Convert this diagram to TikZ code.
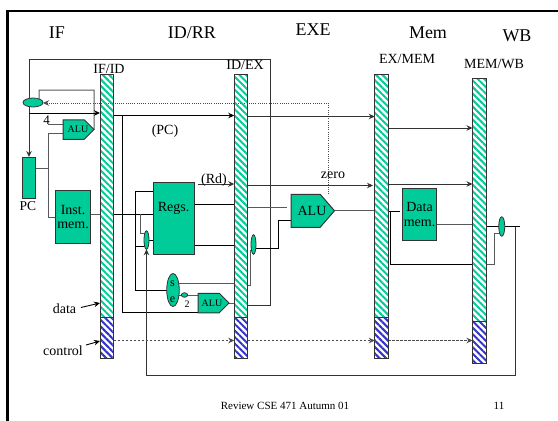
\documentclass[tikz,border=0pt]{standalone}
\usepackage{fontspec}
\setmainfont{Liberation Serif}
\usepackage{xcolor}
\usepackage{tikz}
\usetikzlibrary{shapes.geometric, arrows.meta, positioning, backgrounds, calc, shapes, patterns.meta}
\definecolor{unitgreen}{HTML}{00CC99}
\definecolor{ctrlblue}{HTML}{3333CC}
\newcommand{\fsize}[1]{\fontsize{#1}{#1}\selectfont}
\tikzstyle{datareg} = [rectangle, anchor=north, minimum width=13.5, inner sep=0, outer sep=0, draw=black!80, line width=1, pattern={Lines[angle=-45, distance=4.6, line width=2]}, pattern color=unitgreen]
\tikzstyle{ctrlreg} = [rectangle, anchor=north, minimum width=13.5, inner sep=0, outer sep=0, draw=black!80, line width=1, pattern={Lines[angle=-45, distance=4.6, line width=2]}, pattern color=ctrlblue]
\tikzstyle{unit} = [rectangle, inner sep=0, outer sep=0, draw=black!80, line width=1, fill=unitgreen, align=center, font=\fsize{14}]
\tikzstyle{mux} = [ellipse, inner sep=0, outer sep=0, draw=black!80, line width=0.8, fill=unitgreen]
\tikzstyle{alusmall} = [signal, signal to=east, signal pointer angle=90, inner sep=0, outer sep=0, anchor=west, draw=black!80, line width=1, fill=unitgreen, minimum height=19.5, minimum width=31]
\tikzstyle{stage} = [inner sep=0, font=\fsize{18}]
\tikzstyle{label} = [inner sep=0, font=\fsize{14}, align=center]
\tikzstyle{small} = [inner sep=0, font=\fsize{10}]
\tikzstyle{wire} = [draw=black!65, line width=1]
\tikzstyle{bwire} = [draw=black, line width=0.8]
\tikzstyle{arrow} = [draw=black!80, line width=0.9, -{Stealth[length=6, width=5.5]}]
\tikzstyle{ctrl} = [draw=black!70, line width=0.7, dash pattern=on 2.5 off 1.5, -{Stealth[length=6, width=5.5]}]
\begin{document}
\begin{tikzpicture}[x=1pt, y=-1pt]
    \useasboundingbox (0,0) rectangle (558,421);
    % Marco
    \draw [line width=2.5] (7.5,421) -- (7.5,11) -- (558,11);

    % Etapas
    \node (ifstage) [stage] at (57,33) {IF};
    \node (idstage) [stage] at (192,33) {ID/RR};
    \node (exstage) [stage] at (313,30) {EXE};
    \node (memstage) [stage] at (428,33) {Mem};
    \node (wbstage) [stage] at (517,36) {WB};

    % Registros de etapa
    \node (ifid) [datareg, minimum height=243] at (106.75,74) {};
    \node (idex) [datareg, minimum height=243] at (241,74) {};
    \node (exmem) [datareg, minimum height=243] at (381.5,74) {};
    \node (memwb) [datareg, minimum height=243] at (479.25,78) {};
    \node (ifidc) [ctrlreg, minimum height=41.5] at (106.75,317) {};
    \node (idexc) [ctrlreg, minimum height=41.5] at (241,317) {};
    \node (exmemc) [ctrlreg, minimum height=41.5] at (381.5,317) {};
    \node (memwbc) [ctrlreg, minimum height=41.5] at (479.25,321.5) {};
    \node (ifidl) [label] at (109,69) {IF/ID};
    \node (idexl) [label] at (245,65) {ID/EX};
    \node (exmeml) [label] at (407,59) {EX/MEM};
    \node (memwbl) [label] at (494,64) {MEM/WB};

    % Unidades
    \node (pc) [unit, minimum width=13, minimum height=41] at (29,177.5) {};
    \node (pcl) [label, font=\fsize{13.5}] at (28,206) {PC};
    \node (imem) [unit, minimum width=35, minimum height=53] at (73,217) {Inst.\\[0.5pt]mem.};
    \node (regs) [unit, minimum width=41.5, minimum height=71.5] at (173.75,218.25) {};
    \node (regsl) [label] at (173.5,208) {Regs.};
    \node (dmem) [unit, minimum width=34.5, minimum height=51.5] at (419.5,214.5) {Data\\[0.5pt]mem.};
    \node (sext) [mux, minimum width=12.5, minimum height=33] at (173,290) {};
    \node (sextS) [small, font=\fsize{12}] at (172.5,284) {s};
    \node (sextE) [small, font=\fsize{12}] at (172.5,300) {e};
    \node (shift) [mux, minimum width=6.5, minimum height=4.5] at (184.5,295) {};
    \node (shiftl) [small] at (187,304) {2};

    % Multiplexores
    \node (pcmux) [mux, minimum width=20, minimum height=9] at (33,102.5) {};
    \node (regmux) [mux, minimum width=5, minimum height=18.5] at (146.5,240) {};
    \node (alumux) [mux, minimum width=5, minimum height=19.5] at (253.5,244.5) {};
    \node (wbmux) [mux, minimum width=6, minimum height=19.5] at (501.75,226.5) {};

    % ALUs
    \node (pcalu) [alusmall] at (63,129.5) {};
    \node (pcalul) [small] at (78,129.5) {ALU};
    \node (bralu) [alusmall] at (198,303) {};
    \node (bralul) [small] at (212,303) {ALU};
    \node (alu) [alusmall, minimum width=43.5, minimum height=33, signal pointer angle=98] at (291,210.75) {};
    \node (alul) [label] at (312,211) {ALU};

    % Textos
    \node (pclab) [label] at (165,131) {(PC)};
    \node (rdlab) [label] at (214,180) {(Rd)};
    \node (zerolab) [label] at (333,175) {zero};
    \node (four) [label, font=\fsize{13}] at (46.5,120) {4};
    \node (datalab) [label] at (64.5,309) {data};
    \node (ctrllab) [label] at (63,350.5) {control};
    \node (footer) [small, font=\fsize{11}] at (285,406) {Review CSE 471 Autumn 01};
    \node (pagenum) [small, font=\fsize{11}] at (499,406) {11};

    % Puntos de paso
    \coordinate (brbot) at (270,305);
    \coordinate (brtop) at (270,59);
    \coordinate (pctop) at (29,59);
    \coordinate (fbleft) at (39,90);
    \coordinate (fbright) at (94,90);
    \coordinate (pcbus) at (48,168);
    \coordinate (rdbus) at (135.5,246);
    \coordinate (zerotop) at (328,103);
    \coordinate (wbbot) at (515,375.5);
    \coordinate (wbend) at (520,226.5);
    \coordinate (memload) at (390.5,264.5);
    \coordinate (muxsel) at (494.5,233);
    \coordinate (datastart) at (81,307.5);
    \coordinate (ctrlstart) at (86,345);

    \begin{scope}[on background layer]
        % Busqueda
        \draw [arrow] (idex.east |- brbot) -- (brbot) -- (brtop) -- (pctop) -- (pc.north);
        \draw [wire] (pcalu.east) -- (fbright) -- (fbleft) -- (fbleft |- pcmux.center);
        \draw [arrow, draw=black] (pc.north |- 0,113) -- (ifid.west |- 0,113);
        \draw [wire] (pc.east |- pcbus) -- (pcbus);
        \draw [wire] (pcalu.west |- 0,133) -- (pcbus |- 0,133) -- (pcbus |- imem.west) -- (imem.west);
        \draw [wire] (pcalu.west |- 0,124) -- (48,124);
        \draw [wire] (imem.east |- 0,214) -- (ifid.west |- 0,214);
        \draw [ctrl, dash pattern=on 1 off 1.2] (alu.north -| zerotop) -- (zerotop) -- (pcmux.east |- zerotop);

        % Decodificacion
        \draw [arrow, draw=black] (ifid.east |- 0,115.5) -- (idex.west |- 0,115.5);
        \draw [bwire] (122,115.5) -- (122,312.5) -- (bralu.west |- 0,312.5);
        \draw [bwire] (ifid.east |- 0,214) -- (regs.west |- 0,214);
        \draw [bwire] (regs.west |- 0,191.5) -- (135.5,191.5) -- (135.5,290) -- (sext.west);
        \draw [bwire] (rdbus) -- (rdbus -| regmux.center);
        \draw [wire] (140.5,214) -- (140.5,233) -- (regmux.center |- 0,233);
        \draw [bwire] (regmux.east) -- (regs.west |- regmux.east);
        \draw [arrow] (wbend -| wbbot) -- (wbbot) -- (wbbot -| regmux.south) -- (regmux.south);
        \draw [bwire] (regs.east |- 0,204) -- (idex.west |- 0,204);
        \draw [bwire] (regs.east |- 0,245.5) -- (idex.west |- 0,245.5);
        \draw [arrow] (198,184) -- (idex.west |- 0,184);
        \draw [wire] (sext.east |- 0,283) -- (idex.west |- 0,283);
        \draw [wire] (shift.east) -- (bralu.west |- shift.east);
        \draw [wire] (sext.east |- shift.west) -- (shift.west);
        \draw [wire] (bralu.east) -- (idex.west |- bralu.east);

        % Ejecucion
        \draw [arrow] (idex.east |- 0,116.5) -- (exmem.west |- 0,116.5);
        \draw [arrow] (idex.east |- 0,185.5) -- (373,185.5);
        \draw [wire] (idex.east |- 0,207) -- (287,207);
        \draw [wire] (idex.east |- 0,285) -- (250,285) -- (250,250);
        \draw [bwire] (alumux.east |- 0,248) -- (278,248) -- (278,220) -- (alu.west |- 0,220);
        \draw [wire] (alu.east) -- (exmem.west |- alu.east);

        % Memoria
        \draw [arrow] (exmem.east |- 0,128) -- (memwb.west |- 0,128);
        \draw [arrow] (exmem.east |- 0,184) -- (memwb.west |- 0,184);
        \draw [bwire] (exmem.east |- 0,211.5) -- (399.5,211.5);
        \draw [bwire] (390.5,211.5) -- (memload) -- (memwb.west |- memload);
        \draw [wire] (dmem.east |- 0,224.5) -- (memwb.west |- 0,224.5);

        % Escritura
        \draw [bwire] (memwb.east |- wbmux.west) -- (wbmux.west);
        \draw [wire] (memwb.east |- memload) -- (494.5,264.5) -- (muxsel) -- (wbmux.west |- muxsel);
        \draw [bwire] (wbmux.east) -- (wbend);

        % Control
        \draw [ctrl] (ifidc.east |- 0,340.5) -- (idexc.west |- 0,340.5);
        \draw [ctrl] (idexc.east |- 0,340.5) -- (exmemc.west |- 0,340.5);
        \draw [ctrl] (exmemc.east |- 0,340.5) -- (memwbc.west |- 0,340.5);

        % Rotulos
        \draw [arrow, draw=black] (datastart) -- (ifid.west |- 0,303);
        \draw [arrow, draw=black] (ctrlstart) -- (ifidc.west |- 0,341);
    \end{scope}
\end{tikzpicture}
\end{document}
